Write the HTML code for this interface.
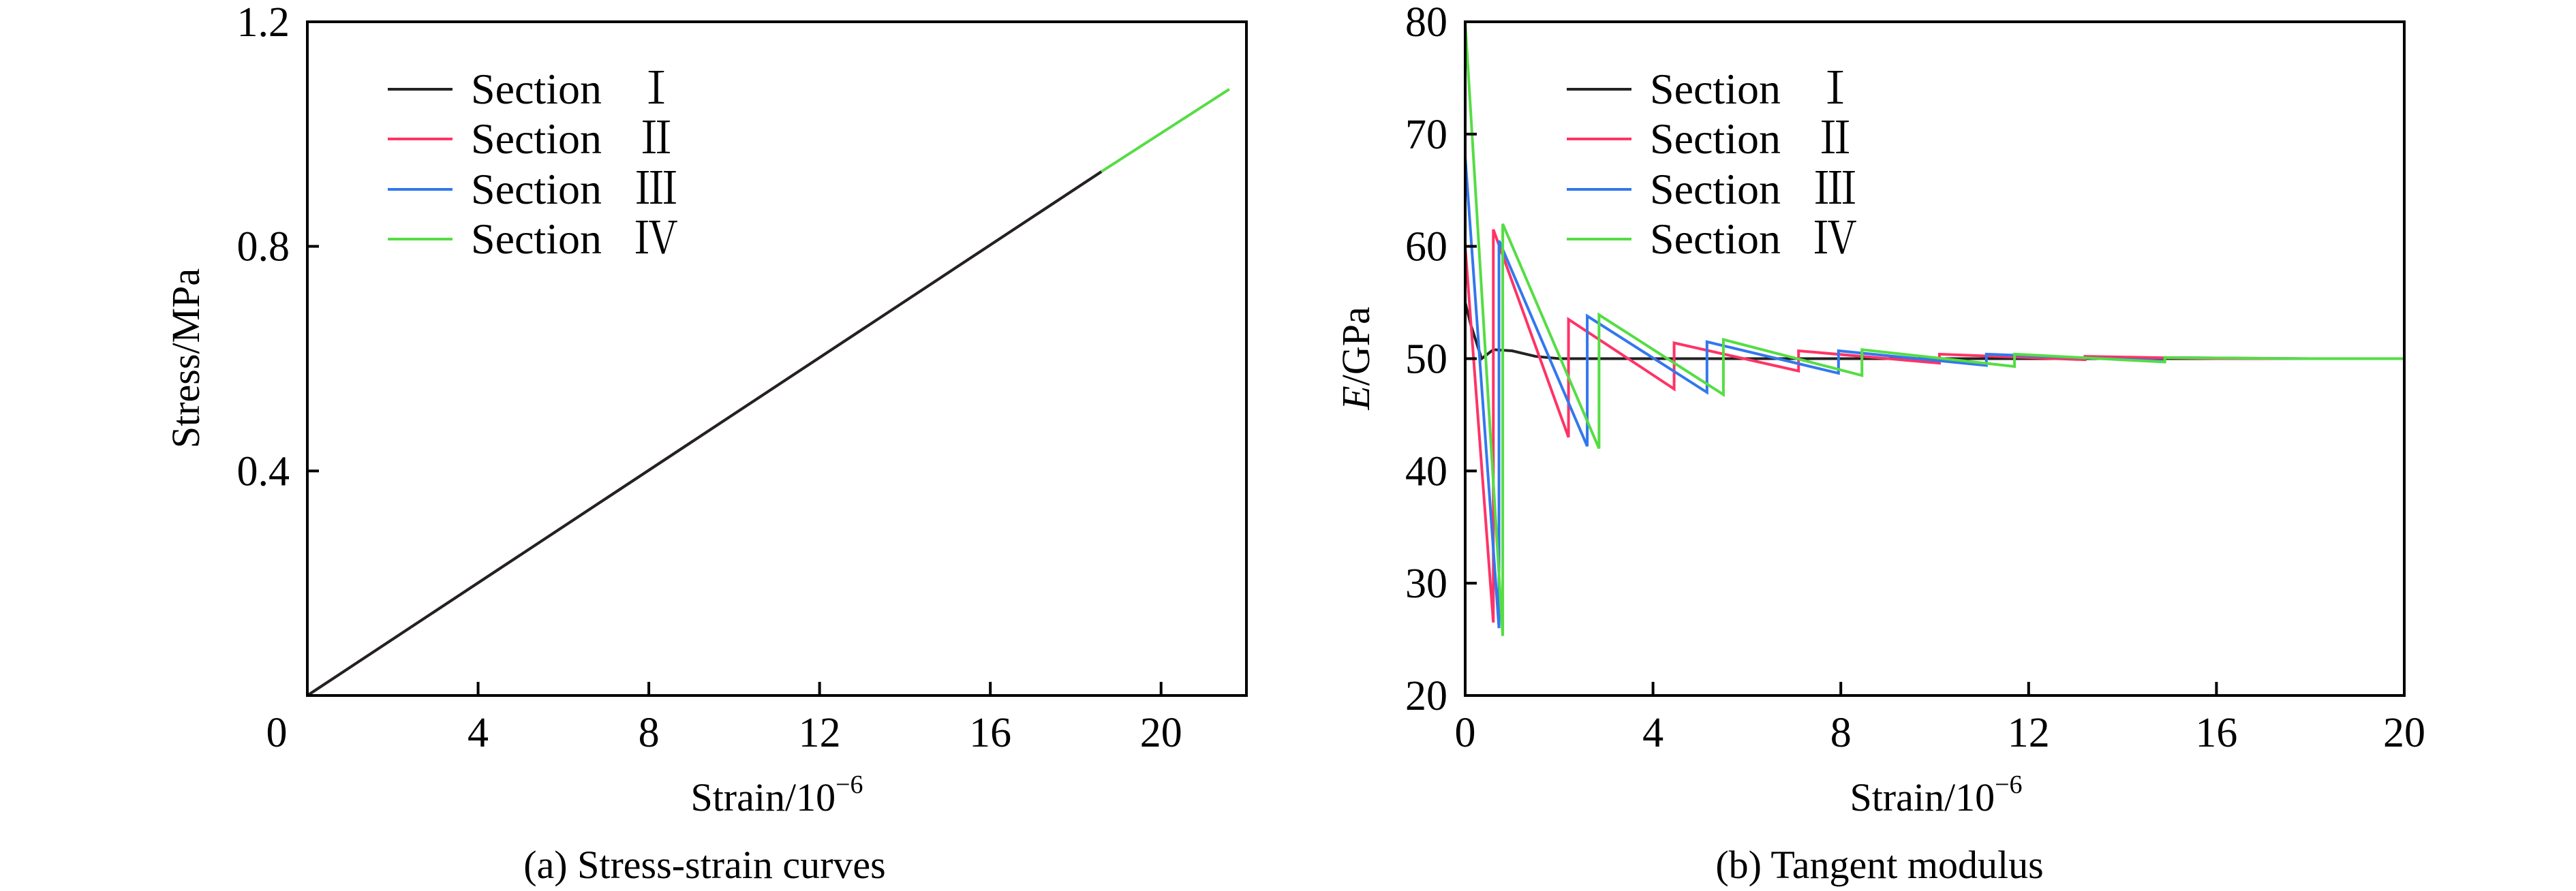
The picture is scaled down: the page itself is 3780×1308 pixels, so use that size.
<!DOCTYPE html>
<html><head><meta charset="utf-8"><style>
html,body{margin:0;padding:0;background:#fff}
svg{display:block}
text{font-family:"Liberation Serif","Noto Serif CJK SC",serif;fill:#000}
</style></head><body>
<div style="position:relative;width:3780px;height:1308px">
<svg id="fig" width="3780" height="1308" viewBox="0 0 3780 1308" style="position:absolute;left:0;top:0">
<g id="chartA"></g>
<g id="chartB"></g>
<text x="1140" y="1190" font-size="58" text-anchor="middle">Strain/10<tspan dy="-26" font-size="38">−6</tspan></text>
<text x="2841" y="1190" font-size="58" text-anchor="middle">Strain/10<tspan dy="-26" font-size="38">−6</tspan></text>
<text transform="translate(292,526) rotate(-90)" font-size="58" text-anchor="middle">Stress/MPa</text>
<text transform="translate(2009,526) rotate(-90)" font-size="58" text-anchor="middle"><tspan font-style="italic">E</tspan>/GPa</text>
<text x="1034" y="1289" font-size="58" text-anchor="middle">(a) Stress-strain curves</text>
<text x="2758" y="1289" font-size="58" text-anchor="middle">(b) Tangent modulus</text>
</svg>
</div>
<script>
const seriesNames = ["Section \u2002\u2160","Section \u2002\u2161","Section \u2002\u2162","Section \u2002\u2163"];
const seriesColors = ["#222222","#ff3366","#3377ee","#55dd44"];
// Chart A data
const aXTicks = [0,4,8,12,16,20];
const aYTicks = [0.4,0.8,1.2];
const aS1x = [0,18.6]; const aS1y = [0,0.933];
const aS2x = [0,18.6]; const aS2y = [0,0.933];
const aS3x = [0,18.6]; const aS3y = [0,0.933];
const aS4x = [0,18.6,21.6]; const aS4y = [0,0.933,1.08];
// Chart B data
const bXTicks = [0,4,8,12,16,20];
const bYTicks = [20,30,40,50,60,70,80];
const bS1x = [0,0.12,0.35,0.6,1.0,1.5,2.0,20];
const bS1y = [55,53,50,50.8,50.7,50.2,50,50];
const bS2x = [0,0.6,0.6,2.2,2.2,4.45,4.45,7.1,7.1,10.1,10.1,13.2,13.2,16,20];
const bS2y = [60,26.5,61.5,43,53.5,47.3,51.4,48.9,50.7,49.6,50.4,49.9,50.2,50,50];
const bS3x = [0,0.72,0.72,2.6,2.6,5.15,5.15,7.95,7.95,11.1,11.1,14.9,14.9,18,20];
const bS3y = [68,26,60.5,42.2,53.8,47,51.5,48.7,50.7,49.4,50.4,49.8,50.1,50,50];
const bS4x = [0,0.8,0.8,2.85,2.85,5.5,5.5,8.45,8.45,11.7,11.7,14.9,14.9,18,20];
const bS4y = [80,25.3,62,42,53.9,46.8,51.7,48.5,50.8,49.3,50.4,49.7,50.1,50,50];

const NS="http://www.w3.org/2000/svg";
function mk(tag,attrs,parent){const e=document.createElementNS(NS,tag);for(const k in attrs)e.setAttribute(k,attrs[k]);parent.appendChild(e);return e;}

function drawChart(g,cfg){
  const {L,R,T,B,xmin,xmax,ymin,ymax}=cfg;
  const sx=v=>L+(v-xmin)/(xmax-xmin)*(R-L);
  const sy=v=>B-(v-ymin)/(ymax-ymin)*(B-T);
  cfg.order.forEach(i=>{
    const s=cfg.series[i];
    const pts=s.x.map((x,j)=>sx(x).toFixed(1)+","+sy(s.y[j]).toFixed(1)).join(" ");
    const p=mk("polyline",{points:pts,fill:"none",stroke:seriesColors[i],"stroke-width":4},g);
    
    
  });
  const f=mk("rect",{x:L,y:T,width:R-L,height:B-T,fill:"none",stroke:"#000","stroke-width":4},g);
  
  
  cfg.xTicks.forEach(v=>{
    const t=mk("line",{x1:sx(v),x2:sx(v),y1:B,y2:B-20,stroke:"#000","stroke-width":4},g);
    
    
    const lx=(v===0&&cfg.zeroX)?cfg.zeroX:sx(v);
    const lb=mk("text",{x:lx,y:B+75,"font-size":62,"text-anchor":"middle"},g);
    lb.textContent=v;
    
    
  });
  cfg.yTicks.forEach(v=>{
    const t=mk("line",{x1:L,x2:L+17,y1:sy(v),y2:sy(v),stroke:"#000","stroke-width":4},g);
    
    
    const lb=mk("text",{x:L-26,y:sy(v)+21,"font-size":62,"text-anchor":"end"},g);
    lb.textContent=cfg.yFmt(v);
    
    
  });
  const lg=mk("g",{},g);
  
  
  [131,204,278,351].forEach((y,i)=>{
    const e=mk("g",{},lg);
    
    
    mk("line",{x1:cfg.legX,x2:cfg.legX+95,y1:y,y2:y,stroke:seriesColors[i],"stroke-width":4},e);
    const t=mk("text",{x:cfg.legX+122,y:y+21,"font-size":64},e);
    t.textContent=seriesNames[i];
  });
}

drawChart(document.getElementById("chartA"),{L:451,R:1829,T:32,B:1021,xmin:0,xmax:22,ymin:0,ymax:1.2,xTicks:aXTicks,yTicks:aYTicks,yFmt:v=>v.toFixed(1),legX:569,zeroX:406,
  order:[3,2,1,0],series:[{x:aS1x,y:aS1y},{x:aS2x,y:aS2y},{x:aS3x,y:aS3y},{x:aS4x,y:aS4y}]});
drawChart(document.getElementById("chartB"),{L:2150,R:3528,T:32,B:1021,xmin:0,xmax:20,ymin:20,ymax:80,xTicks:bXTicks,yTicks:bYTicks,yFmt:v=>String(v),legX:2299,
  order:[0,1,2,3],series:[{x:bS1x,y:bS1y},{x:bS2x,y:bS2y},{x:bS3x,y:bS3y},{x:bS4x,y:bS4y}]});
</script>
</body></html>
